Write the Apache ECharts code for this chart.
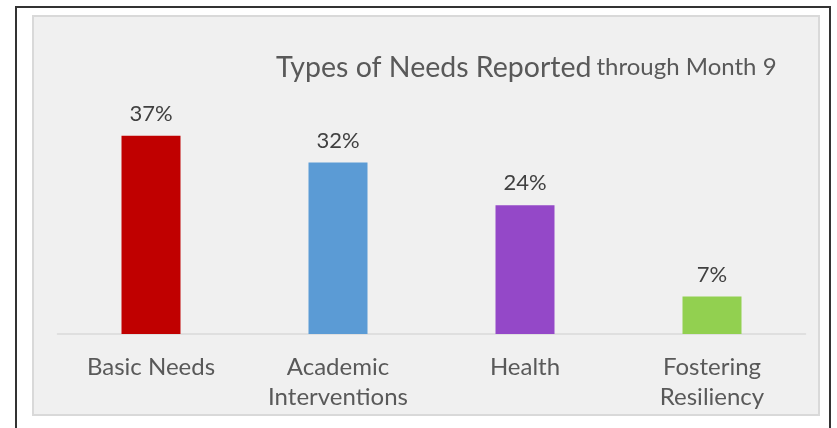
<!DOCTYPE html>
<html><head><meta charset="utf-8">
<script src="https://cdn.jsdelivr.net/npm/echarts@6/dist/echarts.min.js"></script>
<style>
html,body{margin:0;padding:0;background:#fff;width:837px;height:428px;overflow:hidden;}
#outer{position:absolute;left:15px;top:6px;width:816px;height:440px;border:2px solid #333;box-sizing:border-box;}
#panel{position:absolute;left:32px;top:15px;width:788px;height:401px;background:#f0f0f0;border:2px solid #d9d9d9;box-sizing:border-box;}
#chart{position:absolute;left:0;top:0;width:837px;height:428px;}
</style></head>
<body>
<div id="outer"></div>
<div id="panel"></div>
<div id="chart"></div>
<script>
const categories = ['Basic Needs', 'Academic\nInterventions', 'Health', 'Fostering\nResiliency'];
const values = [37, 32, 24, 7];
const barColors = ['#c00000', '#5b9bd5', '#9448c8', '#92d050'];

const chart = echarts.init(document.getElementById('chart'));
const font = 'Lato, "Open Sans", sans-serif';
chart.setOption({
  backgroundColor: 'transparent',
  title: {
    text: '{a|Types of Needs Reported} {b|through Month 9}',
    left: 271, top: 48,
    textStyle: {
      fontWeight: 'normal',
      rich: {
        a: {fontFamily: font, fontSize: 28.5, fontWeight: 'normal', color: '#595959'},
        b: {fontFamily: font, fontSize: 24, fontWeight: 'normal', color: '#595959'}
      }
    }
  },
  grid: {left: 57.5, right: 31.5, top: 119.6, bottom: 94},
  xAxis: {
    type: 'category', data: categories,
    axisLine: {lineStyle: {color: '#d9d9d9', width: 1.5}},
    axisTick: {show: false},
    axisLabel: {fontFamily: font, fontSize: 24, color: '#595959', margin: 18, lineHeight: 30, interval: 0}
  },
  yAxis: {type: 'value', min: 0, max: 40, show: false, splitLine: {show: false}},
  series: [{
    type: 'bar', barWidth: 59,
    data: values.map((v, i) => ({value: v, itemStyle: {color: barColors[i]}})),
    label: {show: true, position: 'top', distance: 11, formatter: '{c}%', fontFamily: font, fontSize: 22, color: '#404040'}
  }]
});
</script>
</body></html>
